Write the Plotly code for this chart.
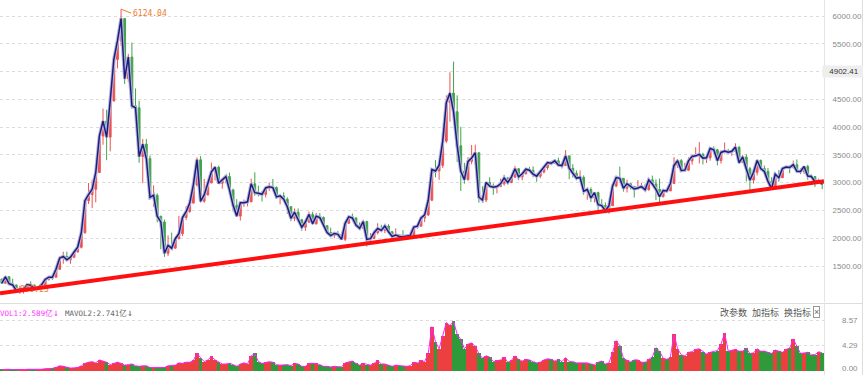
import plotly.graph_objects as go

# ---- data (monthly, Jan 2005 .. Dec 2023) ----
prev_close = 1266  # close before first month
close = [
 1191,1306,1181,1159,1060,1080,1083,1162,1155,1092,1099,1161,
 1258,1299,1298,1440,1641,1672,1612,1658,1752,1837,2099,2675,
 2786,2881,3183,3841,4109,3820,4471,5218,5552,5954,4871,5261,
 4383,4348,3472,3693,3433,2736,2775,2397,2293,1729,1871,1821,
 1991,2082,2373,2477,2632,2959,3412,2667,2779,2996,3195,3277,
 2989,3051,3110,2870,2592,2398,2638,2639,2655,2979,2820,2808,
 2790,2905,2928,2911,2743,2762,2701,2568,2359,2468,2333,2199,
 2292,2428,2262,2396,2372,2225,2103,2047,2086,2069,1980,2269,
 2385,2365,2236,2178,2300,1979,1993,2098,2175,2141,2220,2116,
 2033,2056,2033,2026,2039,2048,2201,2217,2364,2420,2683,3235,
 3210,3310,3748,4442,4612,4277,3664,3206,3053,3383,3445,3539,
 2738,2688,3004,2938,2917,2930,2979,3085,3005,3100,3250,3104,
 3159,3242,3223,3155,3117,3192,3273,3361,3349,3393,3317,3307,
 3481,3259,3169,3082,3095,2847,2876,2725,2821,2603,2588,2494,
 2585,2941,3091,3078,2899,2979,2933,2886,2905,2929,2872,3050,
 2977,2880,2750,2860,2852,2985,3310,3396,3218,3225,3392,3473,
 3483,3509,3442,3447,3615,3591,3397,3544,3568,3547,3564,3640,
 3361,3462,3252,3047,3186,3399,3253,3202,3024,2893,3151,3089,
 3255,3280,3273,3323,3205,3202,3291,3120,3110,3018,3030,2975]
high = [
 1271,1329,1316,1270,1162,1146,1094,1194,1223,1169,1104,1178,
 1259,1306,1302,1445,1681,1757,1757,1660,1752,1838,2100,2698,
 2994,3050,3183,3842,4335,4312,4471,5218,5552,6124.04,5960,5318,
 5522,4695,4473,3786,3786,3490,2952,2805,2400,2336,2050,2100,
 2000,2402,2400,2579,2688,2984,3454,3478,3068,3000,3361,3297,
 3306,3074,3120,3181,2891,2704,2671,2697,2717,3073,3186,2947,
 2851,2940,3001,3067,2934,2774,2826,2736,2580,2536,2536,2348,
 2321,2478,2476,2454,2453,2393,2226,2190,2113,2133,2103,2276,
 2394,2444,2370,2285,2334,2315,2092,2148,2270,2243,2244,2252,
 2127,2177,2075,2146,2061,2087,2218,2248,2371,2420,2689,3239,
 3406,3325,3835,4572,4986,5178,4572,4006,3357,3459,3678,3684,
 3539,2934,3019,3097,2985,2949,3070,3140,3101,3126,3301,3264,
 3174,3260,3284,3295,3155,3192,3301,3372,3393,3418,3450,3324,
 3587,3495,3335,3220,3220,3131,2916,2915,2827,2838,2703,2644,
 2636,2961,3129,3288,3085,3051,2992,2940,3047,2996,2979,3066,
 3127,3058,3074,2866,2898,2994,3458,3425,3425,3359,3456,3474,
 3637,3731,3539,3481,3625,3655,3609,3581,3723,3609,3592,3708,
 3652,3500,3512,3282,3195,3424,3417,3309,3263,3099,3188,3226,
 3269,3300,3311,3398,3418,3256,3300,3322,3150,3110,3074,3040]
low = [
 1178,1181,1172,1135,1043,998.23,1004,1066,1135,1067,1074,1090,
 1143,1237,1250,1293,1440,1541,1595,1541,1640,1745,1815,2080,
 2617,2541,2646,3174,3683,3405,3563,4460,5058,5462,4778,4812,
 4330,4123,3357,2990,3333,2693,2566,2284,1802,1664,1679,1814,
 1814,1981,2037,2329,2460,2625,2934,2640,2639,2771,2990,3039,
 2987,2890,2987,2860,2481,2382,2319,2565,2573,2650,2762,2751,
 2661,2735,2853,2905,2706,2610,2685,2437,2307,2307,2329,2134,
 2132,2273,2242,2242,2336,2223,2100,2026,1999,2055,1973,1949,
 2260,2346,2203,2162,2165,1849,1951,1990,2069,2124,2092,2101,
 1984,2021,1974,2010,1991,2010,2037,2173,2212,2290,2400,2676,
 3095,3050,3263,3710,4099,4062,3373,2850,2983,3040,3330,3328,
 2638,2639,2650,2925,2781,2807,2926,2945,2969,2990,3085,3044,
 3044,3150,3190,3097,3016,3079,3167,3230,3311,3339,3302,3255,
 3305,3063,3091,3041,3041,2782,2691,2653,2644,2449,2547,2463,
 2440,2584,2917,3070,2839,2823,2878,2733,2885,2891,2857,2857,
 2955,2685,2646,2731,2822,2849,2980,3264,3202,3210,3209,3325,
 3463,3347,3328,3355,3396,3512,3312,3343,3524,3515,3482,3551,
 3335,3357,3023,2863,2985,3131,3226,3155,3021,2885,2886,3017,
 3089,3246,3170,3255,3186,3152,3156,3053,3082,2923,2995,2882]
volume = [  # 亿
 0.25,0.3,0.3,0.25,0.2,0.25,0.2,0.3,0.3,0.2,0.2,0.3,
 0.4,0.4,0.45,0.6,0.9,0.8,0.6,0.5,0.55,0.6,0.9,1.3,
 1.5,1.6,1.4,1.9,1.7,1.5,1.1,1.3,1.5,1.3,1.0,1.1,
 1.2,0.9,0.8,0.9,0.9,0.6,0.6,0.5,0.6,0.6,0.9,0.9,
 1.0,1.4,1.3,1.5,1.5,1.8,3.0,2.3,1.6,1.9,2.5,1.9,
 1.5,1.2,1.2,1.3,1.1,0.8,1.2,1.4,1.2,2.6,3.0,1.6,
 1.3,1.5,1.6,1.5,1.1,1.0,1.1,1.1,0.9,1.3,1.2,0.8,
 0.8,1.3,1.3,1.3,1.1,0.8,0.8,0.7,0.8,0.7,0.7,1.4,
 1.6,1.7,1.3,1.0,1.3,1.1,1.0,1.3,1.8,1.2,1.2,1.0,
 0.8,1.0,0.9,0.9,0.8,0.9,1.5,1.4,1.8,1.6,3.0,7.6,
 5.0,3.8,6.0,8.3,7.8,8.5,6.3,5.4,3.8,4.6,4.8,4.2,
 3.0,2.2,2.6,2.4,1.6,1.8,1.9,2.4,1.5,1.8,2.6,2.0,
 1.7,2.0,1.9,1.6,1.4,1.5,1.9,2.1,2.0,1.7,2.0,1.6,
 2.3,1.6,1.6,1.4,1.4,1.3,1.4,1.2,1.1,1.5,1.7,1.2,
 1.4,3.2,5.2,4.3,2.2,1.8,1.6,1.9,1.9,1.5,1.5,2.0,
 2.4,4.0,3.4,2.2,2.0,2.4,6.3,3.8,2.8,2.6,3.2,3.3,
 3.7,3.8,3.3,2.9,3.2,3.3,3.5,4.6,6.5,3.4,3.6,3.7,
 3.4,3.4,3.9,3.0,3.1,3.8,3.4,3.4,3.2,3.0,3.6,3.4,
 3.2,3.7,3.9,5.5,4.3,3.0,3.1,3.2,2.8,2.8,3.3,3.1]
trend_values = [1009, 3025]
price_ticks = [1500, 2000, 2500, 3000, 3500, 4000, 4500, 5000, 5500, 6000]
vol_ticks = [0.00, 4.29, 8.57]
peak_label = "6124.04"
low_label = "998.23"
marker_price = 4902.41
marker_tick = 5000  # tick whose label the marker box covers

n = len(close)
xs = list(range(n))
opens = [prev_close] + close[:-1]
up = [c >= o for o, c in zip(opens, close)]
RED, GREEN = "#ec4040", "#2f9a3a"

fig = go.Figure()
fig.add_trace(go.Scatter(x=xs, y=close, mode="lines", line=dict(color="#b4b4e2", width=3.5),
                         hoverinfo="skip", xaxis="x", yaxis="y"))
fig.add_trace(go.Candlestick(x=xs, open=opens, high=high, low=low, close=close,
                             increasing=dict(line=dict(color=RED, width=1), fillcolor=RED),
                             decreasing=dict(line=dict(color=GREEN, width=1), fillcolor=GREEN),
                             whiskerwidth=0, opacity=0.9, xaxis="x", yaxis="y"))
fig.add_trace(go.Scatter(x=xs, y=close, mode="lines", line=dict(color="#1e1e78", width=1.5),
                         hoverinfo="skip", xaxis="x", yaxis="y"))
ilow = low.index(min(low))
fig.add_trace(go.Scatter(x=[xs[ilow]], y=[min(low)], mode="text", text=[low_label],
                         textposition="top right",
                         textfont=dict(color="#f07a2a", size=8, family="DejaVu Sans Mono"),
                         hoverinfo="skip", xaxis="x", yaxis="y"))
fig.add_trace(go.Scatter(x=[-0.5, n - 0.5], y=trend_values, mode="lines",
                         line=dict(color="#ff1010", width=4), hoverinfo="skip",
                         xaxis="x", yaxis="y"))
fig.add_trace(go.Bar(x=xs, y=volume, marker=dict(color=[RED if u else GREEN for u in up],
                     line=dict(width=0)), width=1.0, xaxis="x2", yaxis="y2"))
fig.add_trace(go.Scatter(x=xs, y=volume, mode="lines", line=dict(color="#ff22ff", width=1),
                         hoverinfo="skip", xaxis="x2", yaxis="y2"))

ARROW = "<span style='font-size:10px'>↓</span>"
ipk = high.index(max(high))
ann = [
    dict(x=xs[ipk], y=max(high), xref="x", yref="y", text=peak_label, showarrow=True,
         arrowhead=0, arrowwidth=1, arrowcolor="#f07a2a", ax=10, ay=4, xanchor="left",
         yanchor="middle", font=dict(color="#f07a2a", size=8, family="DejaVu Sans Mono")),
    dict(x=1, y=marker_tick, xref="paper", yref="y", text=f"{marker_price:.2f}",
         showarrow=False, xanchor="left", xshift=-2, bgcolor="#eeeeee",
         width=40, font=dict(color="#333333", size=8, family="Liberation Sans")),
    dict(x=0, y=312, xref="paper", yref="paper", text="VOL1:2.589亿" + ARROW, showarrow=False,
         xanchor="left", yanchor="middle", xshift=-2,
         font=dict(color="#ff33ff", size=7.5, family="DejaVu Sans Mono, Noto Sans CJK SC")),
    dict(x=0, y=312, xref="paper", yref="paper", text="MAVOL2:2.741亿" + ARROW, showarrow=False,
         xanchor="left", yanchor="middle", xshift=63,
         font=dict(color="#666666", size=7.5, family="DejaVu Sans Mono, Noto Sans CJK SC")),
]
for txt, px in [("改参数", 718), ("加指标", 750), ("换指标", 782)]:
    ann.append(dict(x=px / 824, y=312, xref="paper", yref="paper", text=txt, showarrow=False,
                    xanchor="left", yanchor="middle",
                    font=dict(color="#555555", size=9, family="Noto Sans CJK SC")))
ann.append(dict(x=813 / 824, y=312, xref="paper", yref="paper", text="×", showarrow=False,
                xanchor="left", yanchor="middle", borderwidth=1, bordercolor="#999999",
                borderpad=0, font=dict(color="#666666", size=9, family="Liberation Sans")))
for v in vol_ticks:
    ann.append(dict(x=1, y=v, xref="paper", yref="y2", text=f"{v:.2f}", showarrow=False,
                    xanchor="right", xshift=36, yshift=3 if v == 0 else 0,
                    font=dict(color="#8a8a8a", size=8, family="Liberation Sans")))
for a in ann:
    if a.get("yref") == "paper" and a["y"] > 1:
        a["y"] = (375 - a["y"]) / 375

shapes = [
    dict(type="line", xref="paper", yref="paper", x0=0, x1=863 / 824, y0=(375 - 303.5) / 375,
         y1=(375 - 303.5) / 375, line=dict(color="#dddddd", width=1)),
    dict(type="line", xref="paper", yref="paper", x0=862.5 / 824, x1=862.5 / 824, y0=0, y1=1,
         line=dict(color="#dddddd", width=1)),
]

fig.update_layout(
    width=863, height=375, margin=dict(l=0, r=39, t=0, b=0),
    paper_bgcolor="white", plot_bgcolor="white", showlegend=False,
    xaxis=dict(domain=[0, 1], range=[-0.5, n - 0.5], showticklabels=False, showgrid=False,
               zeroline=False, rangeslider=dict(visible=False), anchor="y"),
    yaxis=dict(domain=[(375 - 302) / 375, 1], range=[852, 6288], side="right",
               tickvals=price_ticks,
               ticktext=["" if t == marker_tick else f"{t:.2f}" for t in price_ticks],
               showgrid=True, gridcolor="#dcdcdc",
               griddash="dot", zeroline=False, showline=True, linecolor="#e4e4e4",
               ticks="", ticklabelstandoff=6,
               tickfont=dict(color="#8a8a8a", size=8, family="Liberation Sans"), anchor="x"),
    xaxis2=dict(domain=[0, 1], range=[-0.5, n - 0.5], showticklabels=False, showgrid=False,
                zeroline=False, anchor="y2"),
    yaxis2=dict(domain=[0, (375 - 304) / 375], range=[-0.686, 11.48], side="right",
                tickvals=vol_ticks[1:], showticklabels=False, showgrid=True,
                gridcolor="#dcdcdc", griddash="dot", zeroline=False, showline=True,
                linecolor="#e4e4e4", ticks="", anchor="x2"),
    annotations=ann, shapes=shapes, bargap=0,
)
fig.write_html("out.html", config={"displayModeBar": False},
               post_script="document.body.style.margin='0';document.body.style.overflow='hidden';")
